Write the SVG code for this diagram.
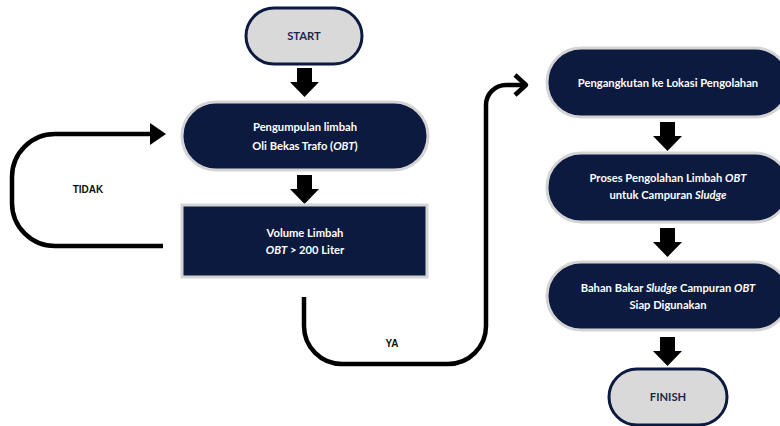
<svg xmlns="http://www.w3.org/2000/svg" width="780" height="426" viewBox="0 0 780 426">
<style>
.term{fill:#d9d9d9;stroke:#0c1a40;stroke-width:3}
.proc{fill:#0c1a40;stroke:#d4d4d4;stroke-width:3}
.tl{font-family:Lato,"Liberation Sans",sans-serif;font-weight:bold;font-size:11.2px;text-anchor:middle;fill:#ffffff}
.tt{font-family:Lato,"Liberation Sans",sans-serif;font-weight:bold;font-size:11.2px;text-anchor:middle;fill:#1c2747}
.lab{font-family:"Liberation Sans",Arial,sans-serif;font-weight:bold;font-size:10px;text-anchor:middle;fill:#111}
.conn{fill:none;stroke:#000;stroke-width:4.5;stroke-linecap:butt;stroke-linejoin:round}
</style>
<defs>
<polygon id="barrow" points="7,0 22,0 22,14 29,14 14.5,29 0,14 7,14" fill="#000"/>
</defs>
<rect width="780" height="426" fill="#ffffff"/>
<g id="connectors">
<use href="#barrow" x="290" y="68"/>
<use href="#barrow" x="290" y="175"/>
<use href="#barrow" x="653" y="122"/>
<use href="#barrow" x="653" y="228"/>
<use href="#barrow" x="653" y="337"/>
<path class="conn" d="M163,246 H55 A43,43 0 0 1 12,203 V177 A43,43 0 0 1 55,134 H152"/>
<polygon points="150,123 166,134 150,145" fill="#000"/>
<path class="conn" d="M304,297 V326 A38,38 0 0 0 342,364 H448 A38,38 0 0 0 486,326 V105 A20,20 0 0 1 506,85 H525"/>
<polyline class="conn" points="515,75 526,85 515,95" stroke-linecap="round"/>
<text class="lab" x="88" y="193">TIDAK</text>
<text class="lab" x="392" y="347">YA</text>
</g>
<g id="start">
<rect class="term" x="246" y="8" width="116" height="56" rx="28"/>
<text class="tt" x="304" y="40">START</text>
</g>
<g id="pengumpulan">
<rect class="proc" x="182" y="102" width="246" height="68" rx="34"/>
<text class="tl" x="305" y="131">Pengumpulan limbah</text>
<text class="tl" x="305" y="150">Oli Bekas Trafo (<tspan font-style="italic">OBT</tspan>)</text>
</g>
<g id="volume">
<rect class="proc" x="182" y="205" width="245" height="72"/>
<text class="tl" x="305" y="237">Volume Limbah</text>
<text class="tl" x="305" y="254"><tspan font-style="italic">OBT</tspan> &gt; 200 Liter</text>
</g>
<g id="pengangkutan">
<rect class="proc" x="547" y="48" width="242" height="69" rx="34"/>
<text class="tl" x="668" y="87">Pengangkutan ke Lokasi Pengolahan</text>
</g>
<g id="proses">
<rect class="proc" x="547" y="153" width="242" height="69" rx="34"/>
<text class="tl" x="668" y="182">Proses Pengolahan Limbah <tspan font-style="italic">OBT</tspan></text>
<text class="tl" x="668" y="199">untuk Campuran <tspan font-style="italic">Sludge</tspan></text>
</g>
<g id="bahan">
<rect class="proc" x="547" y="262" width="242" height="68" rx="34"/>
<text class="tl" x="668" y="292">Bahan Bakar <tspan font-style="italic">Sludge</tspan> Campuran <tspan font-style="italic">OBT</tspan></text>
<text class="tl" x="668" y="309">Siap Digunakan</text>
</g>
<g id="finish">
<rect class="term" x="609" y="369" width="118" height="56" rx="28"/>
<text class="tt" x="668" y="401">FINISH</text>
</g>
</svg>
